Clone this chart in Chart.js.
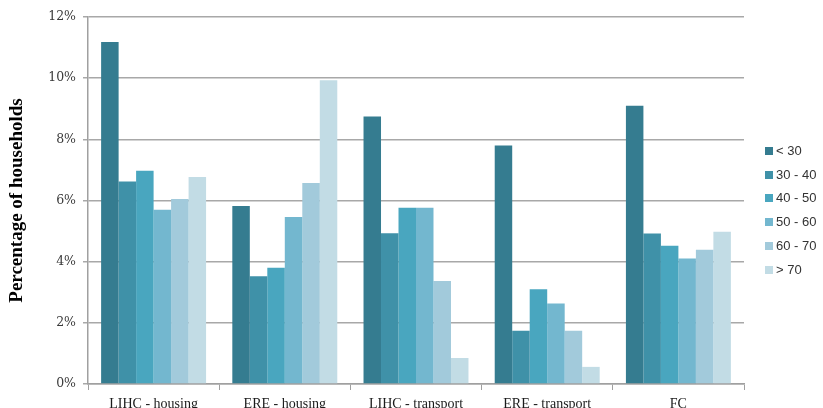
<!DOCTYPE html>
<html>
<head>
<meta charset="utf-8">
<script src="https://cdn.jsdelivr.net/npm/chart.js@4.4.1/dist/chart.umd.min.js"></script>
<style>
  html, body { margin: 0; padding: 0; background: #ffffff; }
  #wrap { width: 823px; height: 408px; }
</style>
</head>
<body>
<div id="wrap"><canvas id="c" width="823" height="408"></canvas></div>
<script>
// Share of households (%) by age band of the household reference person
const categories = ['LIHC - housing', 'ERE - housing', 'LIHC - transport', 'ERE - transport', 'FC'];
const ageBands = ['< 30', '30 - 40', '40 - 50', '50 - 60', '60 - 70', '> 70'];

const under30   = [11.18, 5.82, 8.75, 7.80, 9.10];
const age30to40 = [6.62, 3.52, 4.93, 1.74, 4.92];
const age40to50 = [6.97, 3.80, 5.76, 3.10, 4.52];
const age50to60 = [5.70, 5.46, 5.76, 2.63, 4.10];
const age60to70 = [6.05, 6.57, 3.37, 1.74, 4.39];
const over70    = [6.77, 9.93, 0.85, 0.56, 4.98];

const yTicks = [0, 2, 4, 6, 8, 10, 12];

const seriesValues = [under30, age30to40, age40to50, age50to60, age60to70, over70];
const colours = ['#357c90', '#3f91a8', '#49a6bf', '#73b7cf', '#a2cadb', '#c2dce5'];

const datasets = seriesValues.map((vals, i) => ({
  label: ageBands[i],
  data: vals,
  backgroundColor: colours[i],
  borderWidth: 0,
  categoryPercentage: 0.8,
  barPercentage: 1.0
}));

// Legend drawn at the right of the plot, one swatch per age band
const sideLegend = {
  id: 'sideLegend',
  afterDraw(chart) {
    const ctx = chart.ctx;
    ctx.save();
    ctx.font = '13px "Liberation Sans", Arial, sans-serif';
    ctx.textBaseline = 'middle';
    ctx.textAlign = 'left';
    chart.data.datasets.forEach((ds, i) => {
      const y = 151 + i * 23.7;
      ctx.fillStyle = ds.backgroundColor;
      ctx.fillRect(765, Math.round(y - 4), 8, 8);
      ctx.fillStyle = '#333333';
      ctx.fillText(ds.label, 776, y + 0.5);
    });
    ctx.restore();
  }
};

new Chart(document.getElementById('c'), {
  type: 'bar',
  data: { labels: categories, datasets },
  plugins: [sideLegend],
  options: {
    responsive: false,
    animation: false,
    layout: { padding: { top: 17, right: 79, left: 0, bottom: 0 } },
    plugins: {
      legend: { display: false },
      tooltip: { enabled: false }
    },
    scales: {
      x: {
        offset: true,
        grid: {
          offset: true,
          drawOnChartArea: false,
          drawTicks: true,
          tickLength: 6,
          color: '#a0a0a0',
          lineWidth: 1
        },
        border: { color: '#a0a0a0', width: 1.5 },
        ticks: {
          color: '#1a1a1a',
          font: { family: '"Liberation Serif", serif', size: 14 },
          padding: 6,
          maxRotation: 0
        },
        afterFit(scale) { scale.height = 24; }
      },
      y: {
        min: 0,
        max: 12,
        afterBuildTicks(scale) {
          scale.ticks = yTicks.map(v => ({ value: v }));
        },
        grid: {
          color: '#a8a8a8',
          lineWidth: 1.5,
          tickLength: 5,
          drawTicks: true
        },
        border: { color: '#a0a0a0', width: 1.5 },
        ticks: {
          color: '#3a3a3a',
          font: { family: '"DejaVu Serif", serif', size: 12.5 },
          padding: 7,
          callback: v => v + '%'
        },
        title: {
          display: true,
          text: 'Percentage of households',
          color: '#000000',
          font: { family: '"Liberation Serif", serif', size: 19, weight: 'bold' },
          padding: { top: 6, bottom: 0 }
        },
        afterFit(scale) { scale.width = 88; }
      }
    }
  }
});
</script>
</body>
</html>
